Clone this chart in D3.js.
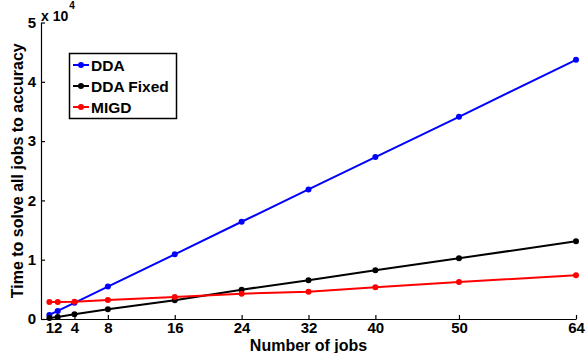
<!DOCTYPE html>
<html>
<head>
<meta charset="utf-8">
<script src="https://cdn.jsdelivr.net/npm/d3@7"></script>
<style>
  body { margin: 0; background: #fff; }
  svg text { font-family: "Liberation Sans", Arial, sans-serif; font-weight: bold; }
</style>
</head>
<body>
<svg width="587" height="353"></svg>
<script>
// x positions (number of jobs)
const jobs = [1, 2, 4, 8, 16, 24, 32, 40, 50, 64];
const xTicks = [1, 2, 4, 8, 16, 24, 32, 40, 50, 64];
const yTicks = [0, 1, 2, 3, 4, 5];

// time values
const dda      = [680, 1360, 2730, 5460, 10900, 16400, 21850, 27300, 34100, 43700];
const ddaFixed = [150, 340, 800, 1640, 3150, 4950, 6530, 8210, 10240, 13100];
const migd     = [2870, 2870, 2920, 3200, 3710, 4270, 4600, 5340, 6240, 7370];

const seriesNames = ["DDA", "DDA Fixed", "MIGD"];
const seriesColors = ["#0000ff", "#000000", "#ff0000"];
const seriesData = [dda, ddaFixed, migd];

const svg = d3.select("svg");
const x = d3.scaleLinear().domain([0, 64]).range([41, 576]);
const y = d3.scaleLinear().domain([0, 50000]).range([319, 22.5]);

// axes, matlab style ticks pointing inward
const xAxis = svg.append("g")
    .attr("transform", `translate(0,${y(0)})`)
    .call(d3.axisBottom(x).tickValues(xTicks).tickSizeInner(-4).tickSizeOuter(0).tickPadding(3));
const yAxis = svg.append("g")
    .attr("transform", `translate(${x(0)},0)`)
    .call(d3.axisLeft(y).tickValues(yTicks.map(d => d * 1e4)).tickFormat(d => d / 1e4)
        .tickSizeInner(-4).tickSizeOuter(0).tickPadding(5));

[xAxis, yAxis].forEach(g => {
    g.selectAll("path, line").attr("stroke", "#000").attr("stroke-width", 1.2);
    g.selectAll("text").attr("font-size", 15).attr("fill", "#000")
        .style("font-family", "'Liberation Sans', Arial, sans-serif").style("font-weight", "bold");
});
xAxis.selectAll("text").attr("dy", null).attr("y", 14);

// exponent label
const expo = svg.append("text").attr("x", 41).attr("y", 21).attr("font-size", 14);
expo.append("tspan").text("x 10");
expo.append("tspan").attr("dx", 1).attr("dy", -12).attr("font-size", 10).text("4");

// axis titles
svg.append("text")
    .attr("x", (x(0) + x(64)) / 2).attr("y", 351)
    .attr("text-anchor", "middle").attr("font-size", 16)
    .text("Number of jobs");
svg.append("text")
    .attr("transform", `translate(23,${(y(0) + y(50000)) / 2}) rotate(-90)`)
    .attr("text-anchor", "middle").attr("font-size", 16)
    .text("Time to solve all jobs to accuracy");

// lines + markers
const line = d3.line().x((d, i) => x(jobs[i])).y(d => y(d));
seriesData.forEach((vals, k) => {
    svg.append("path")
        .attr("d", line(vals))
        .attr("fill", "none")
        .attr("stroke", seriesColors[k])
        .attr("stroke-width", 2);
    svg.append("g").selectAll("circle")
        .data(vals)
        .enter()
        .append("circle")
        .attr("cx", (d, i) => x(jobs[i]))
        .attr("cy", d => y(d))
        .attr("r", 3)
        .attr("fill", seriesColors[k]);
});

// legend
const legend = svg.append("g");
legend.append("rect")
    .attr("x", 69.5).attr("y", 53.5).attr("width", 107).attr("height", 65)
    .attr("fill", "#fff").attr("stroke", "#000").attr("stroke-width", 1.5);
seriesNames.forEach((name, k) => {
    const ly = 65 + k * 21;
    legend.append("line")
        .attr("x1", 73).attr("x2", 89).attr("y1", ly).attr("y2", ly)
        .attr("stroke", seriesColors[k]).attr("stroke-width", 2);
    legend.append("circle").attr("cx", 81).attr("cy", ly).attr("r", 3).attr("fill", seriesColors[k]);
    legend.append("text")
        .attr("x", 91).attr("y", ly + 5.5)
        .attr("font-size", 15.5)
        .text(name);
});
</script>
</body>
</html>
